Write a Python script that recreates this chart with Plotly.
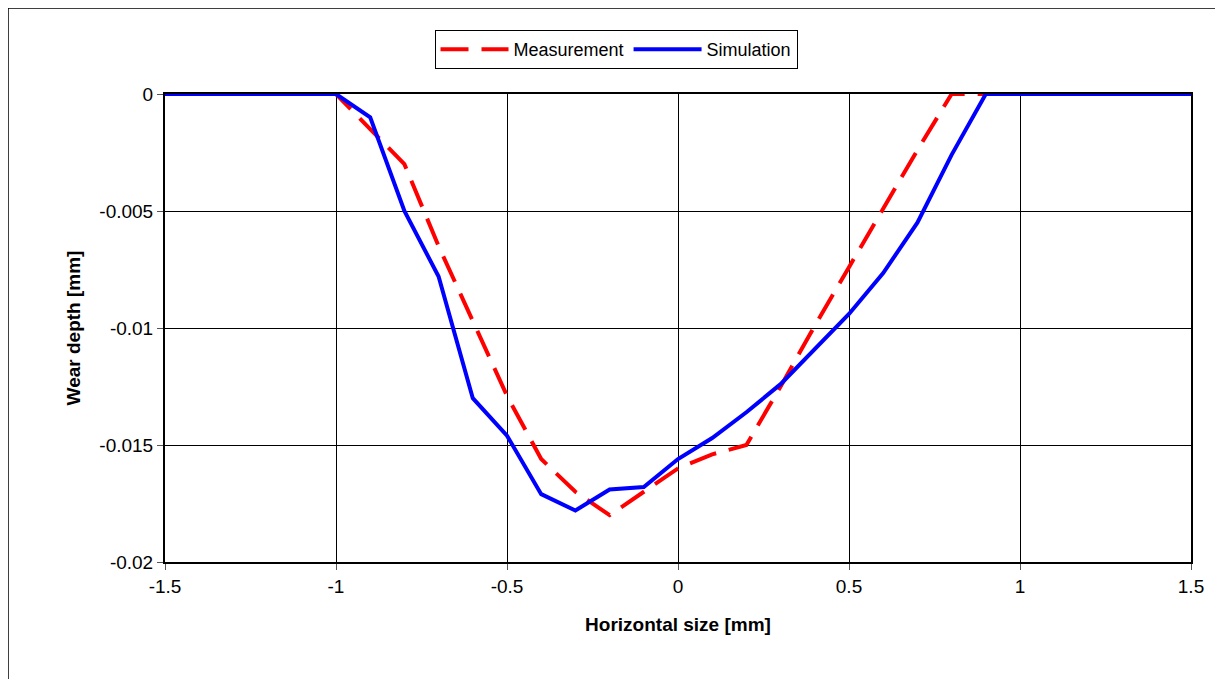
import plotly.graph_objects as go

x_sim = [-1.5, -1.0, -0.9, -0.8, -0.7, -0.6, -0.5, -0.4, -0.3, -0.2, -0.1, 0.0, 0.1, 0.2, 0.3, 0.4, 0.5, 0.6, 0.7, 0.8, 0.9, 1.5]
y_sim = [0, 0, -0.001, -0.005, -0.0078, -0.013, -0.0146, -0.0171, -0.0178, -0.0169, -0.0168, -0.0156, -0.0147, -0.0136, -0.0124, -0.0109, -0.0094, -0.00765, -0.0055, -0.0026, 0, 0]

x_meas = [-1.5, -1.0, -0.9, -0.8, -0.7, -0.6, -0.5, -0.4, -0.3, -0.2, -0.1, 0.0, 0.1, 0.2, 0.3, 0.4, 0.5, 0.6, 0.7, 0.8, 1.5]
y_meas = [0, 0, -0.0015, -0.003, -0.0065, -0.0097, -0.0129, -0.0156, -0.017, -0.018, -0.017, -0.016, -0.0154, -0.015, -0.0125, -0.0099, -0.0074, -0.0049, -0.0024, 0, 0]

x_ticks = [-1.5, -1, -0.5, 0, 0.5, 1, 1.5]
x_tick_labels = ["-1.5", "-1", "-0.5", "0", "0.5", "1", "1.5"]
y_ticks = [0, -0.005, -0.01, -0.015, -0.02]
y_tick_labels = ["0", "-0.005", "-0.01", "-0.015", "-0.02"]

FONT = "Arial, Liberation Sans, sans-serif"

fig = go.Figure()
fig.add_trace(go.Scatter(x=x_meas, y=y_meas, mode="lines", name="Measurement",
                         line=dict(color="#FF0000", width=4, dash="28px,13px")))
fig.add_trace(go.Scatter(x=x_sim, y=y_sim, mode="lines", name="Simulation",
                         line=dict(color="#0000FF", width=4)))

# the page body has an 8px margin; compensate so the plot lands where the reference has it
OFF = 8
W, H = 1223 - 2 * OFF, 687 - 2 * OFF
L, T = 165 - OFF, 94 - OFF
pw, ph = 1026, 468
R = W - L - pw
B = H - T - ph

def px_x(p):  # page pixel -> paper x
    return (p - OFF - L) / pw

def px_y(p):  # page pixel -> paper y
    return (OFF + T + ph - p) / ph

fig.update_layout(
    width=W, height=H,
    margin=dict(l=L, r=R, t=T, b=B, autoexpand=False),
    paper_bgcolor="white", plot_bgcolor="white",
    font=dict(family=FONT, size=19, color="black"),
    showlegend=True,
    legend=dict(orientation="h", x=px_x(616), y=px_y(30),
                xanchor="center", yanchor="top",
                bordercolor="black", borderwidth=1, bgcolor="white",
                font=dict(family=FONT, size=18), itemwidth=68,
                tracegroupgap=0),
    xaxis=dict(range=[-1.5, 1.5], tickvals=x_ticks, ticktext=x_tick_labels,
               showgrid=True, gridcolor="black", gridwidth=1,
               showline=True, linecolor="black", linewidth=2, mirror=True,
               ticks="outside", ticklen=6, tickcolor="#555",
               zeroline=False,
               title=dict(text="<b>Horizontal size [mm]</b>", font=dict(size=19), standoff=22)),
    yaxis=dict(range=[-0.02, 0], tickvals=y_ticks, ticktext=y_tick_labels,
               showgrid=True, gridcolor="black", gridwidth=1,
               showline=True, linecolor="black", linewidth=2, mirror=True,
               ticks="outside", ticklen=6, tickcolor="#555",
               zeroline=False,
               title=dict(text="<b>Wear depth [mm]</b>", font=dict(size=19), standoff=14)),
    shapes=[dict(type="rect", xref="paper", yref="paper",
                 x0=px_x(8), x1=1.3, y0=-0.5, y1=px_y(8),
                 line=dict(color="black", width=1.5), fillcolor="rgba(0,0,0,0)", layer="below")],
)

fig.write_html("out.html")
